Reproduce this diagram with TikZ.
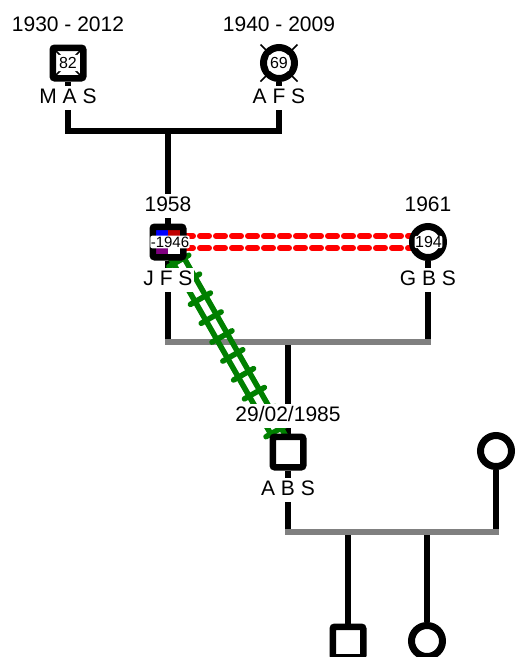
\documentclass[tikz,border=0pt]{standalone}
\usepackage{fontspec}
\setmainfont{Liberation Sans}
\usetikzlibrary{calc}
\pgfdeclarelayer{bg}
\pgfsetlayers{bg,main}
\definecolor{qblue}{HTML}{0000FF}
\definecolor{qred}{HTML}{C00000}
\definecolor{qpurple}{HTML}{800080}
\definecolor{qgreen}{HTML}{008000}
\definecolor{qgray}{HTML}{808080}
\begin{document}
\begin{tikzpicture}[x=1pt,y=-1pt,
  male/.style={rectangle, draw=black, line width=6.5pt, fill=white, minimum size=30.5pt, inner sep=0pt, rounded corners=2pt},
  female/.style={circle, draw=black, line width=7pt, fill=white, minimum size=31pt, inner sep=0pt},
  txt/.style={fill=white, font=\fontsize{21}{21}\selectfont, text height=15pt, text depth=4.5pt, inner xsep=1pt, inner ysep=2.5pt},
  agelbl/.style={fill=white, font=\fontsize{16}{16}\selectfont, inner xsep=1.5pt, inner ysep=2.5pt, rounded corners=2pt},
  blk/.style={draw=black, line width=6pt},
  gry/.style={draw=qgray, line width=6pt, line cap=rect},
  reddash/.style={draw=red, line width=6pt, line cap=round, dash pattern=on 9pt off 7pt},
  rail/.style={draw=qgreen, line width=5.5pt, line cap=round},
  xmark/.style={draw=black, line width=1.6pt}
]
\useasboundingbox (0,0) rectangle (515,657);

% symbols
\node[male] (mas) at (68,63) {};
\node[female] (afs) at (279,63) {};
\coordinate (jfsc) at (168,242);
\fill[qblue] ($(jfsc)+(-15.25,-15.25)$) rectangle (jfsc);
\fill[qred] ($(jfsc)+(15.25,-15.25)$) rectangle (jfsc);
\fill[qpurple] ($(jfsc)+(-15.25,15.25)$) rectangle (jfsc);
\fill[white] ($(jfsc)+(15.25,15.25)$) rectangle (jfsc);
\node[male, fill=none] (jfs) at (jfsc) {};
\node[female] (gbs) at (428,242) {};
\node[male] (abs) at (288,452) {};
\node[female] (wife) at (496,451) {};
\node[male] (son) at (348,642) {};
\node[female] (dau) at (427,641) {};

% deceased marks
\draw[xmark] ($(mas.center)+(-15,-15)$) -- ($(mas.center)+(15,15)$);
\draw[xmark] ($(mas.center)+(15,-15)$) -- ($(mas.center)+(-15,15)$);

% age labels
\node[agelbl] (mas-a) at (mas.center) {82};
\node[agelbl] (afs-a) at (afs.center) {69};
\node[agelbl, font=\fontsize{15}{15}\selectfont, inner xsep=0.5pt, inner ysep=1pt] (jfs-a) at (170,242) {-1946};
\node[agelbl, inner sep=0.5pt] (gbs-a) at (428.5,242) {194};

% texts
\node[txt] (mas-d) at (68,26) {1930 - 2012};
\node[txt] (mas-n) at (68,98) {M A S};
\node[txt] (afs-d) at (279,26) {1940 - 2009};
\node[txt] (afs-n) at (279,98) {A F S};
\node[txt] (jfs-d) at (168,206) {1958};
\node[txt] (jfs-n) at (168,280) {J F S};
\node[txt] (gbs-d) at (428,206) {1961};
\node[txt] (gbs-n) at (428,280) {G B S};
\node[txt] (abs-d) at (288,416) {29/02/1985};
\node[txt] (abs-n) at (288,490) {A B S};

\coordinate (c1) at (168,131);
\coordinate (c2) at (288,342);
\coordinate (c3) at (348,532);

\begin{pgfonlayer}{bg}
  \draw[xmark] ($(afs.center)+(-18.5,-18.5)$) -- ($(afs.center)+(18.5,18.5)$);
  \draw[xmark] ($(afs.center)+(18.5,-18.5)$) -- ($(afs.center)+(-18.5,18.5)$);
  \draw[blk] (mas) -- (mas |- c1) -- (afs |- c1) -- (afs);
  \draw[blk] (c1) -- (jfs);
  \draw[blk] (jfs) -- (jfs |- c2);
  \draw[blk] (gbs) -- (gbs |- c2);
  \draw[blk] (c2) -- (abs);
  \draw[gry] (jfs |- c2) -- (gbs |- c2);
  \draw[blk] (abs) -- (abs |- c3);
  \draw[blk] (wife) -- (wife |- c3);
  \draw[blk] (c3) -- (son);
  \draw[blk] (dau |- c3) -- (dau);
  \draw[gry] (abs |- c3) -- (wife |- c3);
  \draw[reddash] ([yshift=6pt]jfs.center) -- ([yshift=6pt]gbs.center);
  \draw[reddash] ([yshift=-6pt]jfs.center) -- ([yshift=-6pt]gbs.center);
  \draw[rail] ($(jfs.center)!6pt!90:(abs.center)$) -- ($(abs.center)!6pt!-90:(jfs.center)$);
  \draw[rail] ($(jfs.center)!6pt!-90:(abs.center)$) -- ($(abs.center)!6pt!90:(jfs.center)$);
  \foreach \t in {0.09,0.18,0.27,0.36,0.45,0.54,0.63,0.72,0.81,0.90}
    \draw[rail] ($(jfs.center)!\t!(abs.center)!11.5pt!90:(abs.center)$) -- ($(jfs.center)!\t!(abs.center)!11.5pt!-90:(abs.center)$);
\end{pgfonlayer}
\end{tikzpicture}
\end{document}
